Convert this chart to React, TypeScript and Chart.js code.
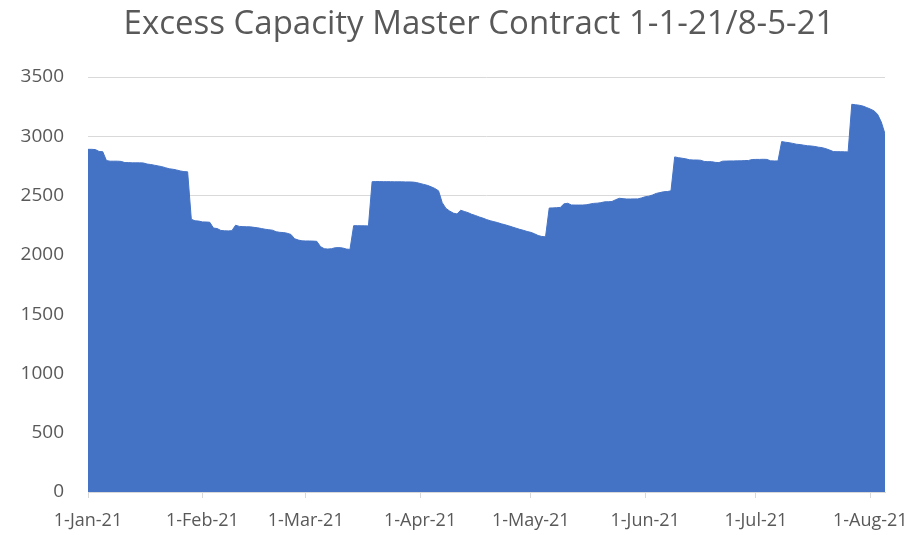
import { useEffect, useRef } from "react";
import { Chart, registerables } from "chart.js";

Chart.register(...registerables);

const TITLE = "Excess Capacity Master Contract 1-1-21/8-5-21";
const monthNames = ["Jan", "Feb", "Mar", "Apr", "May", "Jun", "Jul", "Aug"];

// Daily values, 1-Jan-21 .. 5-Aug-21
const janValues = [2890, 2890, 2888, 2872, 2870, 2795, 2790, 2790, 2790, 2788, 2778, 2778, 2776, 2776, 2776, 2775, 2766, 2762, 2756, 2750, 2744, 2735, 2726, 2722, 2716, 2708, 2702, 2700, 2300, 2287, 2285];
const febValues = [2278, 2277, 2275, 2226, 2222, 2206, 2203, 2202, 2204, 2250, 2240, 2238, 2237, 2236, 2232, 2228, 2222, 2216, 2212, 2208, 2195, 2190, 2188, 2182, 2172, 2136, 2125, 2118];
const marValues = [2117, 2117, 2116, 2114, 2070, 2052, 2049, 2052, 2060, 2061, 2058, 2049, 2046, 2246, 2246, 2245, 2245, 2244, 2617, 2618, 2618, 2617, 2617, 2617, 2616, 2616, 2616, 2615, 2615, 2614, 2610];
const aprValues = [2602, 2594, 2586, 2574, 2560, 2540, 2440, 2392, 2370, 2352, 2345, 2376, 2366, 2356, 2342, 2332, 2320, 2310, 2298, 2288, 2280, 2272, 2262, 2254, 2245, 2235, 2225, 2215, 2207, 2197];
const mayValues = [2190, 2178, 2163, 2155, 2152, 2395, 2396, 2398, 2400, 2430, 2435, 2421, 2420, 2420, 2420, 2422, 2428, 2434, 2436, 2440, 2447, 2448, 2450, 2465, 2477, 2474, 2471, 2471, 2472, 2472, 2480];
const junValues = [2490, 2495, 2505, 2518, 2525, 2532, 2534, 2540, 2826, 2820, 2815, 2810, 2802, 2800, 2800, 2798, 2788, 2786, 2786, 2780, 2778, 2790, 2791, 2792, 2792, 2793, 2793, 2795, 2796, 2804];
const julValues = [2805, 2805, 2806, 2805, 2793, 2792, 2792, 2955, 2950, 2946, 2940, 2933, 2930, 2925, 2920, 2918, 2914, 2908, 2904, 2895, 2884, 2871, 2870, 2870, 2869, 2868, 3270, 3266, 3262, 3255, 3243];
const augValues = [3230, 3215, 3185, 3120, 3020];

const values = [...janValues, ...febValues, ...marValues, ...aprValues, ...mayValues, ...junValues, ...julValues, ...augValues];

const dateLabels = values.map((_, i) => {
  const d = new Date(2021, 0, 1 + i);
  return `${d.getDate()}-${monthNames[d.getMonth()]}-21`;
});
const monthTickIdx = dateLabels.map((l, i) => (l.startsWith("1-") ? i : -1)).filter((i) => i >= 0);
const yTicks = [0, 500, 1000, 1500, 2000, 2500, 3000, 3500];

const TEXT = "#595959";
const GRID = "#D9D9D9";
const FONT = "'Open Sans', 'Noto Sans', sans-serif";

export default function App() {
  const ref = useRef<HTMLCanvasElement | null>(null);

  useEffect(() => {
    if (!ref.current) return;
    const titlePlugin = {
      id: "customTitle",
      afterDraw(chart: any) {
        const ctx = chart.ctx;
        ctx.save();
        ctx.font = `33px ${FONT}`;
        ctx.fillStyle = TEXT;
        ctx.textAlign = "center";
        ctx.textBaseline = "middle";
        ctx.fillText(TITLE, 479, 25);
        ctx.restore();
      },
    };
    const chart = new Chart(ref.current, {
      type: "line",
      data: {
        datasets: [
          {
            data: values.map((v, i) => ({ x: i, y: v })),
            fill: "origin",
            backgroundColor: "#4472C4",
            borderColor: "#4472C4",
            borderWidth: 1,
            pointRadius: 0,
            tension: 0,
          },
        ],
      },
      options: {
        responsive: false,
        animation: false,
        layout: { padding: { left: 0, right: 31, top: 77, bottom: 0 } },
        plugins: { legend: { display: false }, tooltip: { enabled: false }, title: { display: false } },
        scales: {
          x: {
            type: "linear",
            min: 0,
            max: values.length - 1,
            afterBuildTicks: (s: any) => {
              s.ticks = monthTickIdx.map((v) => ({ value: v }));
            },
            afterFit: (s: any) => {
              s.height = 43;
              s.paddingLeft = 0;
              s.paddingRight = 0;
            },
            ticks: {
              callback: (v: any) => dateLabels[v as number],
              color: TEXT,
              font: { family: FONT, size: 18 },
              maxRotation: 0,
              minRotation: 0,
              autoSkip: false,
              padding: 12,
            },
            grid: { drawOnChartArea: false, drawTicks: true, tickLength: 6, color: GRID },
            border: { color: GRID },
          },
          y: {
            min: 0,
            max: 3500,
            afterBuildTicks: (s: any) => {
              s.ticks = yTicks.map((v) => ({ value: v }));
            },
            afterFit: (s: any) => {
              s.width = 88;
              s.paddingTop = 0;
              s.paddingBottom = 0;
            },
            ticks: {
              callback: (v: any) => String(v),
              color: TEXT,
              font: { family: FONT, size: 19 },
              padding: 24,
            },
            grid: { color: GRID, drawTicks: false },
            border: { display: false },
          },
        },
      },
      plugins: [titlePlugin],
    });
    return () => chart.destroy();
  }, []);

  return (
    <div style={{ position: "fixed", left: 0, top: 0, width: 916, height: 535, background: "#fff" }}>
      <canvas ref={ref} width={916} height={535} style={{ display: "block" }} />
    </div>
  );
}
